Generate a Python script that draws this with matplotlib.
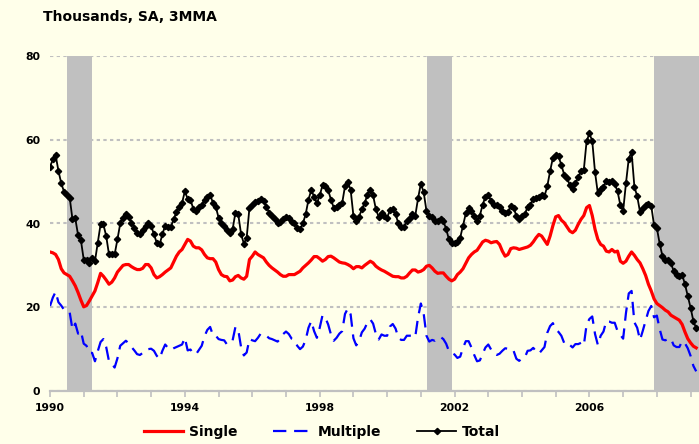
import numpy as np
import matplotlib
matplotlib.use("Agg")
import matplotlib.pyplot as plt
from matplotlib.lines import Line2D

plt.rcParams['font.family'] = ['DejaVu Sans']

# ---- data (thousands, SA, 3MMA), monthly from Jan 1990 ----
start_year = 1990
total = [
    53.5, 55.3, 56.3, 52.6, 49.6, 47.6, 46.8, 46.2, 41.0, 41.2, 37.2, 36.0,
    31.4, 31.2, 30.6, 31.8, 31.0, 35.4, 39.8, 39.8, 37.0, 32.6, 32.6, 32.6,
    36.2, 40.0, 41.4, 42.2, 41.6, 40.2, 39.0, 37.8, 37.6, 38.4, 39.5, 40.2,
    39.5, 37.4, 35.4, 35.0, 37.4, 39.5, 39.2, 39.2, 41.0, 42.7, 44.0, 44.9,
    47.7, 45.9, 45.7, 43.5, 43.0, 44.0, 44.5, 45.7, 46.4, 46.9, 44.9, 44.0,
    41.4, 40.0, 39.5, 38.4, 37.8, 38.6, 42.6, 42.2, 37.5, 35.2, 36.6, 43.8,
    44.3, 45.1, 45.3, 45.9, 45.3, 44.0, 42.6, 41.8, 41.0, 40.2, 40.3, 41.0,
    41.6, 41.4, 40.3, 40.0, 39.0, 38.6, 40.0, 42.2, 45.7, 48.0, 46.4, 44.8,
    46.7, 49.1, 48.9, 48.0, 45.7, 43.8, 44.0, 44.5, 44.9, 48.9, 49.9, 48.1,
    41.8, 40.6, 41.6, 43.4, 44.9, 46.9, 48.1, 46.7, 43.4, 41.6, 42.4, 41.8,
    41.4, 43.2, 43.4, 42.2, 40.0, 39.2, 39.2, 40.6, 41.4, 42.2, 41.8, 46.0,
    49.5, 47.5, 43.0, 41.8, 41.6, 40.6, 40.6, 41.1, 40.6, 38.7, 36.2, 35.4,
    35.4, 35.7, 36.6, 39.5, 42.4, 43.7, 43.0, 41.8, 40.7, 41.9, 44.5, 46.4,
    46.9, 45.3, 44.5, 44.3, 43.9, 43.0, 42.4, 42.7, 44.2, 43.8, 41.8, 41.0,
    41.8, 42.2, 44.0, 44.5, 45.9, 46.1, 46.3, 46.7, 46.5, 48.9, 52.5, 55.7,
    56.3, 56.0, 54.0, 51.7, 50.9, 49.2, 48.2, 49.6, 51.0, 52.5, 52.8, 59.7,
    61.5, 59.7, 52.2, 47.2, 48.2, 48.8, 50.1, 49.8, 50.1, 49.5, 47.7, 44.4,
    43.0, 49.6, 55.5, 57.1, 48.8, 46.5, 42.8, 43.6, 44.4, 44.6, 44.2, 39.6,
    38.9, 35.2, 32.2, 31.4, 31.3, 30.6, 28.6, 27.8, 27.4, 27.8, 25.5, 22.7,
    19.9, 16.7, 15.0,
]
single = [
    33.2, 33.0, 32.6, 31.4, 29.2, 28.2, 27.8, 27.4, 26.3, 25.1, 23.5, 21.7,
    20.1, 20.4, 21.5, 22.7, 23.9, 25.9, 28.1, 27.4, 26.5, 25.5, 26.0, 27.0,
    28.4, 29.2, 30.0, 30.2, 30.2, 29.7, 29.3, 29.0, 29.0, 29.3, 30.2, 30.2,
    29.4, 27.8, 27.0, 27.3, 27.8, 28.4, 28.9, 29.4, 30.8, 32.2, 33.2, 33.8,
    35.0, 36.2, 35.8, 34.6, 34.2, 34.2, 33.7, 32.6, 31.8, 31.6, 31.6, 30.8,
    29.0, 27.8, 27.4, 27.3, 26.3, 26.5, 27.3, 27.6, 27.0, 26.7, 27.4, 31.4,
    32.2, 33.2, 32.6, 32.2, 31.8, 30.8, 30.0, 29.4, 28.9, 28.4, 27.8, 27.4,
    27.4, 27.8, 27.8, 27.8, 28.2, 28.6, 29.4, 30.0, 30.6, 31.3, 32.1, 32.1,
    31.6, 31.0, 31.4, 32.1, 32.2, 31.8, 31.3, 30.8, 30.6, 30.5, 30.2, 29.8,
    29.2, 29.7, 29.7, 29.4, 30.0, 30.5, 31.0, 30.6, 29.8, 29.3, 28.9, 28.6,
    28.2, 27.8, 27.4, 27.3, 27.3, 27.0, 27.0, 27.4, 28.2, 28.9, 28.9, 28.4,
    28.6, 29.0, 29.8, 30.0, 29.4, 28.6, 28.1, 28.2, 28.2, 27.4, 26.7, 26.3,
    26.7, 27.8, 28.4, 29.2, 30.5, 31.8, 32.6, 33.2, 33.6, 34.6, 35.6, 36.0,
    35.8, 35.4, 35.6, 35.7, 35.0, 33.4, 32.2, 32.6, 34.0, 34.2, 34.1, 33.8,
    34.0, 34.2, 34.4, 34.8, 35.6, 36.6, 37.4, 37.0, 36.0, 35.0, 37.0, 39.5,
    41.6, 41.9, 40.8, 40.2, 39.2, 38.2, 37.8, 38.4, 39.8, 41.0, 41.9, 43.8,
    44.3, 41.9, 38.6, 36.2, 35.0, 34.6, 33.4, 33.2, 33.8, 33.2, 33.4, 31.0,
    30.5, 31.0, 32.2, 33.2, 32.4, 31.4, 30.6, 29.2, 27.6, 25.5, 23.9, 22.0,
    20.9, 20.4, 19.9, 19.3, 18.9, 18.1, 17.7, 17.3, 16.9, 15.9, 14.1, 12.5,
    11.5, 10.7, 10.3,
]
multiple = [
    20.3, 22.3, 23.7, 21.2, 20.4, 19.4, 19.0, 18.8, 14.7, 16.1, 13.7, 14.3,
    11.3, 10.8, 9.1, 9.1, 7.1, 9.5, 11.7, 12.4, 10.5, 7.1, 6.6, 5.6,
    7.8, 10.8, 11.4, 12.0, 11.4, 10.5, 9.7, 8.8, 8.6, 9.1, 9.3, 10.0,
    10.1, 9.6, 8.4, 7.7, 9.6, 11.1, 10.3, 9.8, 10.2, 10.5, 10.8, 11.1,
    12.7, 9.7, 9.9, 8.9, 8.8, 9.8, 10.8, 13.1, 14.6, 15.3, 13.3, 13.2,
    12.4, 12.2, 12.1, 11.1, 11.5, 12.1, 15.3, 14.6, 10.5, 8.5, 9.2, 12.4,
    12.1, 11.9, 12.7, 13.7, 13.5, 13.2, 12.6, 12.4, 12.1, 11.8, 12.5, 13.6,
    14.2, 13.6, 12.5, 12.2, 10.8, 10.0, 10.6, 12.2, 15.1, 16.7, 14.3, 12.7,
    15.1, 18.1, 17.5, 15.9, 13.5, 12.0, 12.7, 13.7, 14.3, 18.4, 19.7, 18.3,
    12.6, 10.9, 11.9, 14.0, 14.9, 16.4, 17.1, 16.1, 13.6, 12.3, 13.5, 13.2,
    13.2, 15.4, 16.0, 14.9, 12.7, 12.2, 12.2, 13.2, 13.2, 13.3, 12.9, 17.6,
    20.9, 18.5, 13.2, 11.8, 12.2, 12.0, 12.5, 12.9, 12.4, 11.3, 9.5, 9.1,
    8.7, 7.9, 8.2, 10.3, 11.9, 11.9, 10.4, 8.6, 7.1, 7.3, 8.9, 10.4,
    11.1, 9.9, 8.9, 8.6, 8.9, 9.6, 10.2, 10.1, 10.2, 9.6, 7.7, 7.2,
    7.8, 8.0, 9.6, 9.7, 10.3, 9.5, 8.9, 9.7, 10.5, 13.9, 15.5, 16.2,
    14.7, 14.1, 13.2, 11.5, 11.7, 11.0, 10.4, 11.2, 11.2, 11.5, 10.9, 15.9,
    17.2, 17.8, 13.6, 11.0, 13.2, 14.2, 16.7, 16.6, 16.3, 16.3, 14.3, 13.4,
    12.5, 18.6, 23.3, 23.9, 16.4, 15.1, 12.2, 14.4, 16.8, 19.1, 20.3, 17.6,
    18.0, 14.8, 12.3, 12.1, 12.4, 12.5, 10.9, 10.5, 10.5, 11.9, 11.4, 10.2,
    8.4, 6.0, 4.7,
]
recessions = [(1990.5, 1991.25), (2001.17, 2001.92), (2007.92, 2009.25)]
year_ticks = list(range(1990, 2010))
year_labels = [str(y) if (y - 1990) % 4 == 0 else "" for y in year_ticks]
y_ticks = [0, 20, 40, 60, 80]
title = "Thousands, SA, 3MMA"

# ---- figure ----
bg = "#FFFFEA"
fig = plt.figure(figsize=(6.99, 4.44), dpi=100, facecolor=bg)
ax = fig.add_axes([50 / 699, 1 - 391 / 444, 649 / 699, 335 / 444])
ax.set_facecolor(bg)

x = start_year + np.arange(len(total)) / 12.0

for a, b in recessions:
    ax.axvspan(a, b, color="#C0C0C0", zorder=1, lw=0)

ax.plot(x, single, color="#FF0000", lw=2.3, zorder=3)
ax.plot(x, multiple, color="#0000FF", lw=1.6, dashes=(6, 3.5), zorder=3)
ax.plot(x, total, color="black", lw=1.3, marker="D", markersize=3.2, zorder=4)

ax.set_xlim(1990, 2009.25)
ax.set_ylim(0, 80)
ax.set_yticks(y_ticks)
ax.set_xticks(year_ticks)
ax.set_xticklabels(year_labels)

for s in ["left", "right", "top"]:
    ax.spines[s].set_visible(False)
ax.spines["bottom"].set_color("#C0C0C0")
ax.spines["bottom"].set_linewidth(1.6)

ax.yaxis.grid(True, color="#C0C0C0", lw=1.5, linestyle=(0, (1.6, 1.6)))
ax.set_axisbelow(True)
ax.tick_params(axis="y", length=0, pad=7, labelsize=7.8)
ax.tick_params(axis="x", length=4, width=1.2, color="#C0C0C0", pad=4.5, labelsize=7.8)
for lab in ax.get_xticklabels() + ax.get_yticklabels():
    lab.set_fontweight("bold")

fig.text(43 / 699, 1 - 17 / 444, title, fontsize=10, fontweight="bold",
         ha="left", va="center")

handles = [
    Line2D([], [], color="#FF0000", lw=2.3),
    Line2D([], [], color="#0000FF", lw=1.6, dashes=(6, 3.5)),
    Line2D([], [], color="black", lw=1.3, marker="D", markersize=3.2),
]
fig.legend(handles, ["Single", "Multiple", "Total"], loc="center",
           bbox_to_anchor=(322 / 699, 1 - 432 / 444), ncol=3, frameon=False,
           prop={"weight": "bold", "size": 10}, handlelength=2.8,
           handletextpad=0.4, columnspacing=2.6)

fig.savefig("out.png", dpi=100, facecolor=bg)
